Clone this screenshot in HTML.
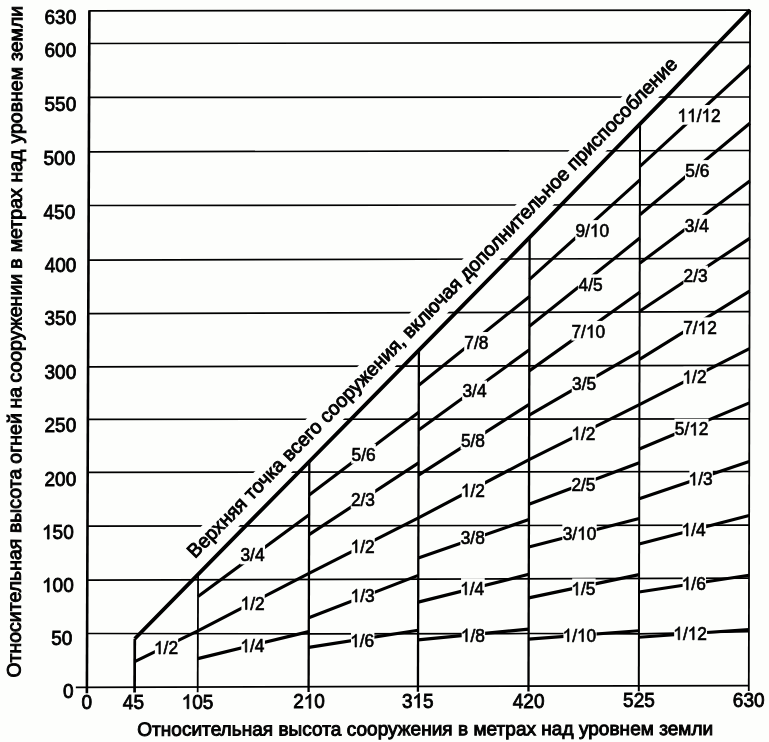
<!DOCTYPE html>
<html><head><meta charset="utf-8"><title>chart</title><style>html,body{margin:0;padding:0;background:#fdfefc}svg{display:block;will-change:transform}</style></head><body>
<svg width="769" height="742" viewBox="0 0 769 742" font-family="Liberation Sans, sans-serif" fill="#000">
<rect width="100%" height="100%" fill="#fdfefc"/>
<g stroke="#000" stroke-linecap="butt">
<polyline points="87.30,580.10 749.01,578.20" fill="none" stroke-width="1.7"/>
<polyline points="87.50,526.20 749.11,525.10" fill="none" stroke-width="1.7"/>
<polyline points="87.69,472.30 749.21,471.50" fill="none" stroke-width="1.7"/>
<polyline points="87.89,419.40 749.32,418.90" fill="none" stroke-width="1.7"/>
<polyline points="88.09,366.80 749.42,365.30" fill="none" stroke-width="1.7"/>
<polyline points="88.29,313.70 749.52,311.70" fill="none" stroke-width="1.7"/>
<polyline points="88.49,260.20 749.63,258.30" fill="none" stroke-width="1.7"/>
<polyline points="88.69,205.50 749.73,204.70" fill="none" stroke-width="1.7"/>
<polyline points="88.88,151.80 749.83,150.50" fill="none" stroke-width="1.7"/>
<polyline points="89.08,97.40 749.93,97.00" fill="none" stroke-width="1.7"/>
<polyline points="89.28,43.50 750.04,42.45" fill="none" stroke-width="1.7"/>
<polyline points="87.10,633.50 308.77,633.80 528.63,633.50 638.92,633.80 748.91,631.70" fill="none" stroke-width="1.7"/>
<line x1="89.40" y1="10.90" x2="750.10" y2="10.10" stroke-width="1.7" />
</g>
<g transform="translate(195.12,559.02) rotate(-45.617)">
<rect x="-5" y="-18.50" width="701.0" height="26.80" fill="#fdfefc"/>
<text x="0" y="0" font-size="19.4" textLength="691.0" lengthAdjust="spacing" stroke="#000" stroke-width="0.95">Верхняя точка всего сооружения, включая дополнительное приспособление</text>
</g>
<g stroke="#000" stroke-linecap="butt">
<line x1="134.58" y1="692.53" x2="134.77" y2="638.75" stroke-width="2.7" />
<line x1="197.68" y1="692.37" x2="198.08" y2="574.41" stroke-width="1.8" />
<line x1="308.58" y1="692.08" x2="309.30" y2="461.47" stroke-width="2.3" />
<line x1="417.93" y1="691.80" x2="418.90" y2="350.05" stroke-width="2.3" />
<line x1="528.49" y1="691.52" x2="529.63" y2="237.35" stroke-width="2.3" />
<line x1="638.79" y1="691.23" x2="640.05" y2="123.89" stroke-width="2.0" />
<line x1="748.79" y1="690.95" x2="750.10" y2="10.10" stroke-width="1.8" />
<line x1="86.88" y1="693.18" x2="89.40" y2="10.14" stroke-width="2.6" />
<line x1="75.84" y1="687.33" x2="748.80" y2="685.60" stroke-width="1.8" />
<polyline points="134.77,638.75 198.08,574.41 245.76,525.94 309.30,461.47 351.06,419.20 403.25,366.09 418.90,350.05 455.82,312.59 508.55,258.99 529.63,237.35 561.19,204.93 613.77,150.77 640.05,123.89 666.26,97.05 718.66,42.50 750.10,10.10" fill="none" stroke-width="3.8"/>
</g>
<g stroke="#000" stroke-linecap="butt">
<line x1="134.69" y1="661.60" x2="197.89" y2="630.90" stroke-width="3.15"/>
<line x1="198.01" y1="596.40" x2="309.14" y2="514.70" stroke-width="3.15"/>
<line x1="197.89" y1="630.90" x2="308.95" y2="573.40" stroke-width="3.15"/>
<line x1="197.80" y1="658.60" x2="308.77" y2="631.60" stroke-width="3.15"/>
<line x1="309.20" y1="495.00" x2="418.72" y2="412.30" stroke-width="3.15"/>
<line x1="309.07" y1="534.60" x2="418.58" y2="462.90" stroke-width="3.15"/>
<line x1="308.95" y1="573.40" x2="418.43" y2="517.90" stroke-width="3.15"/>
<line x1="308.81" y1="617.80" x2="418.26" y2="575.40" stroke-width="3.15"/>
<line x1="308.72" y1="647.40" x2="418.11" y2="630.20" stroke-width="3.15"/>
<line x1="418.80" y1="385.30" x2="529.48" y2="296.40" stroke-width="3.15"/>
<line x1="418.67" y1="430.00" x2="529.35" y2="349.80" stroke-width="3.15"/>
<line x1="418.55" y1="475.10" x2="529.21" y2="404.30" stroke-width="3.15"/>
<line x1="418.43" y1="517.90" x2="529.07" y2="459.60" stroke-width="3.15"/>
<line x1="418.31" y1="557.90" x2="528.92" y2="519.50" stroke-width="3.15"/>
<line x1="418.19" y1="602.10" x2="528.78" y2="574.30" stroke-width="3.15"/>
<line x1="418.08" y1="639.90" x2="528.65" y2="629.10" stroke-width="3.15"/>
<line x1="529.53" y1="279.40" x2="639.93" y2="179.90" stroke-width="3.15"/>
<line x1="529.41" y1="326.30" x2="639.80" y2="238.10" stroke-width="3.15"/>
<line x1="529.29" y1="370.90" x2="639.68" y2="292.30" stroke-width="3.15"/>
<line x1="529.18" y1="415.20" x2="639.54" y2="351.30" stroke-width="3.15"/>
<line x1="529.07" y1="459.60" x2="639.43" y2="404.60" stroke-width="3.15"/>
<line x1="528.96" y1="504.20" x2="639.30" y2="462.80" stroke-width="3.15"/>
<line x1="528.85" y1="547.00" x2="639.17" y2="518.50" stroke-width="3.15"/>
<line x1="528.72" y1="597.90" x2="639.05" y2="574.60" stroke-width="3.15"/>
<line x1="528.62" y1="639.10" x2="638.92" y2="630.80" stroke-width="3.15"/>
<line x1="639.96" y1="166.30" x2="750.00" y2="65.50" stroke-width="3.15"/>
<line x1="639.85" y1="214.80" x2="749.88" y2="123.30" stroke-width="3.15"/>
<line x1="639.74" y1="263.30" x2="749.77" y2="181.00" stroke-width="3.15"/>
<line x1="639.63" y1="311.20" x2="749.66" y2="238.40" stroke-width="3.15"/>
<line x1="639.53" y1="359.30" x2="749.56" y2="291.10" stroke-width="3.15"/>
<line x1="639.43" y1="404.60" x2="749.45" y2="348.70" stroke-width="3.15"/>
<line x1="639.33" y1="449.00" x2="749.35" y2="402.90" stroke-width="3.15"/>
<line x1="639.22" y1="498.70" x2="749.23" y2="461.40" stroke-width="3.15"/>
<line x1="639.12" y1="544.00" x2="749.13" y2="515.40" stroke-width="3.15"/>
<line x1="639.01" y1="592.00" x2="749.01" y2="575.20" stroke-width="3.15"/>
<line x1="638.91" y1="637.30" x2="748.91" y2="629.50" stroke-width="3.15"/>
</g>
<rect x="154.86" y="637.33" width="23.28" height="19.64" fill="#fdfefc"/>
<g transform="translate(153.97,654.07) scale(1,1.04)" stroke="#000" stroke-width="0.65"><text x="9.62 14.43" y="0" font-size="17.3">/2</text><path transform="translate(0.00,0) scale(0.00845,-0.00845)" d="M763 0H583V1147Q518 1085 412.5 1023Q307 961 223 930V1104Q374 1175 487 1276Q600 1377 647 1472H763Z" vector-effect="non-scaling-stroke"/></g>
<rect x="240.15" y="544.73" width="24.91" height="19.64" fill="#fdfefc"/>
<g transform="translate(240.50,561.47) scale(1,1.04)" stroke="#000" stroke-width="0.65"><text x="0.00 9.62 14.43" y="0" font-size="17.3">3/4</text></g>
<rect x="241.46" y="592.83" width="23.28" height="19.64" fill="#fdfefc"/>
<g transform="translate(240.57,609.57) scale(1,1.04)" stroke="#000" stroke-width="0.65"><text x="9.62 14.43" y="0" font-size="17.3">/2</text><path transform="translate(0.00,0) scale(0.00845,-0.00845)" d="M763 0H583V1147Q518 1085 412.5 1023Q307 961 223 930V1104Q374 1175 487 1276Q600 1377 647 1472H763Z" vector-effect="non-scaling-stroke"/></g>
<rect x="241.26" y="635.43" width="23.67" height="19.64" fill="#fdfefc"/>
<g transform="translate(240.38,652.17) scale(1,1.04)" stroke="#000" stroke-width="0.65"><text x="9.62 14.43" y="0" font-size="17.3">/4</text><path transform="translate(0.00,0) scale(0.00845,-0.00845)" d="M763 0H583V1147Q518 1085 412.5 1023Q307 961 223 930V1104Q374 1175 487 1276Q600 1377 647 1472H763Z" vector-effect="non-scaling-stroke"/></g>
<rect x="351.20" y="443.93" width="24.61" height="19.64" fill="#fdfefc"/>
<g transform="translate(351.51,460.67) scale(1,1.04)" stroke="#000" stroke-width="0.65"><text x="0.00 9.62 14.43" y="0" font-size="17.3">5/6</text></g>
<rect x="350.78" y="489.13" width="24.43" height="19.64" fill="#fdfefc"/>
<g transform="translate(350.92,505.87) scale(1,1.04)" stroke="#000" stroke-width="0.65"><text x="0.00 9.62 14.43" y="0" font-size="17.3">2/3</text></g>
<rect x="351.46" y="536.03" width="23.28" height="19.64" fill="#fdfefc"/>
<g transform="translate(350.57,552.77) scale(1,1.04)" stroke="#000" stroke-width="0.65"><text x="9.62 14.43" y="0" font-size="17.3">/2</text><path transform="translate(0.00,0) scale(0.00845,-0.00845)" d="M763 0H583V1147Q518 1085 412.5 1023Q307 961 223 930V1104Q374 1175 487 1276Q600 1377 647 1472H763Z" vector-effect="non-scaling-stroke"/></g>
<rect x="351.39" y="585.33" width="23.41" height="19.64" fill="#fdfefc"/>
<g transform="translate(350.51,602.07) scale(1,1.04)" stroke="#000" stroke-width="0.65"><text x="9.62 14.43" y="0" font-size="17.3">/3</text><path transform="translate(0.00,0) scale(0.00845,-0.00845)" d="M763 0H583V1147Q518 1085 412.5 1023Q307 961 223 930V1104Q374 1175 487 1276Q600 1377 647 1472H763Z" vector-effect="non-scaling-stroke"/></g>
<rect x="350.99" y="630.33" width="23.41" height="19.64" fill="#fdfefc"/>
<g transform="translate(350.11,647.07) scale(1,1.04)" stroke="#000" stroke-width="0.65"><text x="9.62 14.43" y="0" font-size="17.3">/6</text><path transform="translate(0.00,0) scale(0.00845,-0.00845)" d="M763 0H583V1147Q518 1085 412.5 1023Q307 961 223 930V1104Q374 1175 487 1276Q600 1377 647 1472H763Z" vector-effect="non-scaling-stroke"/></g>
<rect x="464.21" y="332.03" width="24.39" height="19.64" fill="#fdfefc"/>
<g transform="translate(464.30,348.77) scale(1,1.04)" stroke="#000" stroke-width="0.65"><text x="0.00 9.62 14.43" y="0" font-size="17.3">7/8</text></g>
<rect x="462.15" y="380.53" width="24.91" height="19.64" fill="#fdfefc"/>
<g transform="translate(462.50,397.27) scale(1,1.04)" stroke="#000" stroke-width="0.65"><text x="0.00 9.62 14.43" y="0" font-size="17.3">3/4</text></g>
<rect x="460.60" y="429.93" width="24.61" height="19.64" fill="#fdfefc"/>
<g transform="translate(460.91,446.67) scale(1,1.04)" stroke="#000" stroke-width="0.65"><text x="0.00 9.62 14.43" y="0" font-size="17.3">5/8</text></g>
<rect x="461.76" y="480.03" width="23.28" height="19.64" fill="#fdfefc"/>
<g transform="translate(460.87,496.77) scale(1,1.04)" stroke="#000" stroke-width="0.65"><text x="9.62 14.43" y="0" font-size="17.3">/2</text><path transform="translate(0.00,0) scale(0.00845,-0.00845)" d="M763 0H583V1147Q518 1085 412.5 1023Q307 961 223 930V1104Q374 1175 487 1276Q600 1377 647 1472H763Z" vector-effect="non-scaling-stroke"/></g>
<rect x="460.38" y="527.03" width="24.65" height="19.64" fill="#fdfefc"/>
<g transform="translate(460.73,543.77) scale(1,1.04)" stroke="#000" stroke-width="0.65"><text x="0.00 9.62 14.43" y="0" font-size="17.3">3/8</text></g>
<rect x="461.06" y="578.13" width="23.67" height="19.64" fill="#fdfefc"/>
<g transform="translate(460.18,594.87) scale(1,1.04)" stroke="#000" stroke-width="0.65"><text x="9.62 14.43" y="0" font-size="17.3">/4</text><path transform="translate(0.00,0) scale(0.00845,-0.00845)" d="M763 0H583V1147Q518 1085 412.5 1023Q307 961 223 930V1104Q374 1175 487 1276Q600 1377 647 1472H763Z" vector-effect="non-scaling-stroke"/></g>
<rect x="461.69" y="624.93" width="23.41" height="19.64" fill="#fdfefc"/>
<g transform="translate(460.81,641.67) scale(1,1.04)" stroke="#000" stroke-width="0.65"><text x="9.62 14.43" y="0" font-size="17.3">/8</text><path transform="translate(0.00,0) scale(0.00845,-0.00845)" d="M763 0H583V1147Q518 1085 412.5 1023Q307 961 223 930V1104Q374 1175 487 1276Q600 1377 647 1472H763Z" vector-effect="non-scaling-stroke"/></g>
<rect x="575.21" y="220.13" width="34.18" height="19.64" fill="#fdfefc"/>
<g transform="translate(575.39,236.87) scale(1,1.04)" stroke="#000" stroke-width="0.65"><text x="0.00 9.62 24.05" y="0" font-size="17.3">9/0</text><path transform="translate(14.43,0) scale(0.00845,-0.00845)" d="M763 0H583V1147Q518 1085 412.5 1023Q307 961 223 930V1104Q374 1175 487 1276Q600 1377 647 1472H763Z" vector-effect="non-scaling-stroke"/></g>
<rect x="577.92" y="274.33" width="24.95" height="19.64" fill="#fdfefc"/>
<g transform="translate(578.54,291.07) scale(1,1.04)" stroke="#000" stroke-width="0.65"><text x="0.00 9.62 14.43" y="0" font-size="17.3">4/5</text></g>
<rect x="571.35" y="320.93" width="34.10" height="19.64" fill="#fdfefc"/>
<g transform="translate(571.44,337.67) scale(1,1.04)" stroke="#000" stroke-width="0.65"><text x="0.00 9.62 24.05" y="0" font-size="17.3">7/0</text><path transform="translate(14.43,0) scale(0.00845,-0.00845)" d="M763 0H583V1147Q518 1085 412.5 1023Q307 961 223 930V1104Q374 1175 487 1276Q600 1377 647 1472H763Z" vector-effect="non-scaling-stroke"/></g>
<rect x="571.75" y="373.03" width="24.69" height="19.64" fill="#fdfefc"/>
<g transform="translate(572.11,389.77) scale(1,1.04)" stroke="#000" stroke-width="0.65"><text x="0.00 9.62 14.43" y="0" font-size="17.3">3/5</text></g>
<rect x="572.26" y="422.93" width="23.28" height="19.64" fill="#fdfefc"/>
<g transform="translate(571.37,439.67) scale(1,1.04)" stroke="#000" stroke-width="0.65"><text x="9.62 14.43" y="0" font-size="17.3">/2</text><path transform="translate(0.00,0) scale(0.00845,-0.00845)" d="M763 0H583V1147Q518 1085 412.5 1023Q307 961 223 930V1104Q374 1175 487 1276Q600 1377 647 1472H763Z" vector-effect="non-scaling-stroke"/></g>
<rect x="571.26" y="473.83" width="24.48" height="19.64" fill="#fdfefc"/>
<g transform="translate(571.40,490.57) scale(1,1.04)" stroke="#000" stroke-width="0.65"><text x="0.00 9.62 14.43" y="0" font-size="17.3">2/5</text></g>
<rect x="562.32" y="522.93" width="34.36" height="19.64" fill="#fdfefc"/>
<g transform="translate(562.67,539.67) scale(1,1.04)" stroke="#000" stroke-width="0.65"><text x="0.00 9.62 24.05" y="0" font-size="17.3">3/0</text><path transform="translate(14.43,0) scale(0.00845,-0.00845)" d="M763 0H583V1147Q518 1085 412.5 1023Q307 961 223 930V1104Q374 1175 487 1276Q600 1377 647 1472H763Z" vector-effect="non-scaling-stroke"/></g>
<rect x="572.17" y="578.43" width="23.45" height="19.64" fill="#fdfefc"/>
<g transform="translate(571.29,595.17) scale(1,1.04)" stroke="#000" stroke-width="0.65"><text x="9.62 14.43" y="0" font-size="17.3">/5</text><path transform="translate(0.00,0) scale(0.00845,-0.00845)" d="M763 0H583V1147Q518 1085 412.5 1023Q307 961 223 930V1104Q374 1175 487 1276Q600 1377 647 1472H763Z" vector-effect="non-scaling-stroke"/></g>
<rect x="563.44" y="624.93" width="33.12" height="19.64" fill="#fdfefc"/>
<g transform="translate(562.55,641.67) scale(1,1.04)" stroke="#000" stroke-width="0.65"><text x="9.62 24.05" y="0" font-size="17.3">/0</text><path transform="translate(0.00,0) scale(0.00845,-0.00845)" d="M763 0H583V1147Q518 1085 412.5 1023Q307 961 223 930V1104Q374 1175 487 1276Q600 1377 647 1472H763Z" vector-effect="non-scaling-stroke"/><path transform="translate(14.43,0) scale(0.00845,-0.00845)" d="M763 0H583V1147Q518 1085 412.5 1023Q307 961 223 930V1104Q374 1175 487 1276Q600 1377 647 1472H763Z" vector-effect="non-scaling-stroke"/></g>
<rect x="678.34" y="105.03" width="42.52" height="19.64" fill="#fdfefc"/>
<g transform="translate(677.45,121.77) scale(1,1.04)" stroke="#000" stroke-width="0.65"><text x="19.24 33.67" y="0" font-size="17.3">/2</text><path transform="translate(0.00,0) scale(0.00845,-0.00845)" d="M763 0H583V1147Q518 1085 412.5 1023Q307 961 223 930V1104Q374 1175 487 1276Q600 1377 647 1472H763Z" vector-effect="non-scaling-stroke"/><path transform="translate(9.62,0) scale(0.00845,-0.00845)" d="M763 0H583V1147Q518 1085 412.5 1023Q307 961 223 930V1104Q374 1175 487 1276Q600 1377 647 1472H763Z" vector-effect="non-scaling-stroke"/><path transform="translate(24.05,0) scale(0.00845,-0.00845)" d="M763 0H583V1147Q518 1085 412.5 1023Q307 961 223 930V1104Q374 1175 487 1276Q600 1377 647 1472H763Z" vector-effect="non-scaling-stroke"/></g>
<rect x="685.00" y="160.13" width="24.61" height="19.64" fill="#fdfefc"/>
<g transform="translate(685.31,176.87) scale(1,1.04)" stroke="#000" stroke-width="0.65"><text x="0.00 9.62 14.43" y="0" font-size="17.3">5/6</text></g>
<rect x="684.45" y="214.83" width="24.91" height="19.64" fill="#fdfefc"/>
<g transform="translate(684.80,231.57) scale(1,1.04)" stroke="#000" stroke-width="0.65"><text x="0.00 9.62 14.43" y="0" font-size="17.3">3/4</text></g>
<rect x="683.48" y="265.63" width="24.43" height="19.64" fill="#fdfefc"/>
<g transform="translate(683.62,282.37) scale(1,1.04)" stroke="#000" stroke-width="0.65"><text x="0.00 9.62 14.43" y="0" font-size="17.3">2/3</text></g>
<rect x="683.06" y="317.33" width="33.88" height="19.64" fill="#fdfefc"/>
<g transform="translate(683.15,334.07) scale(1,1.04)" stroke="#000" stroke-width="0.65"><text x="0.00 9.62 24.05" y="0" font-size="17.3">7/2</text><path transform="translate(14.43,0) scale(0.00845,-0.00845)" d="M763 0H583V1147Q518 1085 412.5 1023Q307 961 223 930V1104Q374 1175 487 1276Q600 1377 647 1472H763Z" vector-effect="non-scaling-stroke"/></g>
<rect x="683.36" y="366.73" width="23.28" height="19.64" fill="#fdfefc"/>
<g transform="translate(682.47,383.47) scale(1,1.04)" stroke="#000" stroke-width="0.65"><text x="9.62 14.43" y="0" font-size="17.3">/2</text><path transform="translate(0.00,0) scale(0.00845,-0.00845)" d="M763 0H583V1147Q518 1085 412.5 1023Q307 961 223 930V1104Q374 1175 487 1276Q600 1377 647 1472H763Z" vector-effect="non-scaling-stroke"/></g>
<rect x="674.45" y="418.63" width="34.10" height="19.64" fill="#fdfefc"/>
<g transform="translate(674.76,435.37) scale(1,1.04)" stroke="#000" stroke-width="0.65"><text x="0.00 9.62 24.05" y="0" font-size="17.3">5/2</text><path transform="translate(14.43,0) scale(0.00845,-0.00845)" d="M763 0H583V1147Q518 1085 412.5 1023Q307 961 223 930V1104Q374 1175 487 1276Q600 1377 647 1472H763Z" vector-effect="non-scaling-stroke"/></g>
<rect x="689.39" y="468.53" width="23.41" height="19.64" fill="#fdfefc"/>
<g transform="translate(688.51,485.27) scale(1,1.04)" stroke="#000" stroke-width="0.65"><text x="9.62 14.43" y="0" font-size="17.3">/3</text><path transform="translate(0.00,0) scale(0.00845,-0.00845)" d="M763 0H583V1147Q518 1085 412.5 1023Q307 961 223 930V1104Q374 1175 487 1276Q600 1377 647 1472H763Z" vector-effect="non-scaling-stroke"/></g>
<rect x="682.46" y="519.23" width="23.67" height="19.64" fill="#fdfefc"/>
<g transform="translate(681.58,535.97) scale(1,1.04)" stroke="#000" stroke-width="0.65"><text x="9.62 14.43" y="0" font-size="17.3">/4</text><path transform="translate(0.00,0) scale(0.00845,-0.00845)" d="M763 0H583V1147Q518 1085 412.5 1023Q307 961 223 930V1104Q374 1175 487 1276Q600 1377 647 1472H763Z" vector-effect="non-scaling-stroke"/></g>
<rect x="682.59" y="573.13" width="23.41" height="19.64" fill="#fdfefc"/>
<g transform="translate(681.71,589.87) scale(1,1.04)" stroke="#000" stroke-width="0.65"><text x="9.62 14.43" y="0" font-size="17.3">/6</text><path transform="translate(0.00,0) scale(0.00845,-0.00845)" d="M763 0H583V1147Q518 1085 412.5 1023Q307 961 223 930V1104Q374 1175 487 1276Q600 1377 647 1472H763Z" vector-effect="non-scaling-stroke"/></g>
<rect x="674.15" y="623.03" width="32.90" height="19.64" fill="#fdfefc"/>
<g transform="translate(673.26,639.77) scale(1,1.04)" stroke="#000" stroke-width="0.65"><text x="9.62 24.05" y="0" font-size="17.3">/2</text><path transform="translate(0.00,0) scale(0.00845,-0.00845)" d="M763 0H583V1147Q518 1085 412.5 1023Q307 961 223 930V1104Q374 1175 487 1276Q600 1377 647 1472H763Z" vector-effect="non-scaling-stroke"/><path transform="translate(14.43,0) scale(0.00845,-0.00845)" d="M763 0H583V1147Q518 1085 412.5 1023Q307 961 223 930V1104Q374 1175 487 1276Q600 1377 647 1472H763Z" vector-effect="non-scaling-stroke"/></g>
<g transform="translate(44.53,23.90) scale(1,1.04)" stroke="#000" stroke-width="0.8"><text x="0.00 10.57 21.13" y="0" font-size="19.0">630</text></g>
<g transform="translate(44.53,56.60) scale(1,1.04)" stroke="#000" stroke-width="0.8"><text x="0.00 10.57 21.13" y="0" font-size="19.0">600</text></g>
<g transform="translate(44.53,110.60) scale(1,1.04)" stroke="#000" stroke-width="0.8"><text x="0.00 10.57 21.13" y="0" font-size="19.0">550</text></g>
<g transform="translate(43.53,164.60) scale(1,1.04)" stroke="#000" stroke-width="0.8"><text x="0.00 10.57 21.13" y="0" font-size="19.0">500</text></g>
<g transform="translate(43.53,218.50) scale(1,1.04)" stroke="#000" stroke-width="0.8"><text x="0.00 10.57 21.13" y="0" font-size="19.0">450</text></g>
<g transform="translate(44.73,271.70) scale(1,1.04)" stroke="#000" stroke-width="0.8"><text x="0.00 10.57 21.13" y="0" font-size="19.0">400</text></g>
<g transform="translate(44.53,325.30) scale(1,1.04)" stroke="#000" stroke-width="0.8"><text x="0.00 10.57 21.13" y="0" font-size="19.0">350</text></g>
<g transform="translate(44.53,378.70) scale(1,1.04)" stroke="#000" stroke-width="0.8"><text x="0.00 10.57 21.13" y="0" font-size="19.0">300</text></g>
<g transform="translate(44.53,432.30) scale(1,1.04)" stroke="#000" stroke-width="0.8"><text x="0.00 10.57 21.13" y="0" font-size="19.0">250</text></g>
<g transform="translate(44.53,485.70) scale(1,1.04)" stroke="#000" stroke-width="0.8"><text x="0.00 10.57 21.13" y="0" font-size="19.0">200</text></g>
<g transform="translate(42.03,539.10) scale(1,1.04)" stroke="#000" stroke-width="0.8"><text x="10.57 21.13" y="0" font-size="19.0">50</text><path transform="translate(0.00,0) scale(0.00928,-0.00928)" d="M763 0H583V1147Q518 1085 412.5 1023Q307 961 223 930V1104Q374 1175 487 1276Q600 1377 647 1472H763Z" vector-effect="non-scaling-stroke"/></g>
<g transform="translate(42.03,592.10) scale(1,1.04)" stroke="#000" stroke-width="0.8"><text x="10.57 21.13" y="0" font-size="19.0">00</text><path transform="translate(0.00,0) scale(0.00928,-0.00928)" d="M763 0H583V1147Q518 1085 412.5 1023Q307 961 223 930V1104Q374 1175 487 1276Q600 1377 647 1472H763Z" vector-effect="non-scaling-stroke"/></g>
<g transform="translate(51.20,644.90) scale(1,1.04)" stroke="#000" stroke-width="0.8"><text x="0.00 10.57" y="0" font-size="19.0">50</text></g>
<g transform="translate(63.07,697.90) scale(1,1.04)" stroke="#000" stroke-width="0.8"><text x="0.00" y="0" font-size="19.0">0</text></g>
<g transform="translate(81.60,709.20) scale(1,1.04)" stroke="#000" stroke-width="0.8"><text x="0.00" y="0" font-size="19.0">0</text></g>
<g transform="translate(122.81,708.90) scale(1,1.04)" stroke="#000" stroke-width="0.8"><text x="0.00 10.57" y="0" font-size="19.0">45</text></g>
<g transform="translate(181.71,708.70) scale(1,1.04)" stroke="#000" stroke-width="0.8"><text x="10.57 21.13" y="0" font-size="19.0">05</text><path transform="translate(0.00,0) scale(0.00928,-0.00928)" d="M763 0H583V1147Q518 1085 412.5 1023Q307 961 223 930V1104Q374 1175 487 1276Q600 1377 647 1472H763Z" vector-effect="non-scaling-stroke"/></g>
<g transform="translate(293.14,708.30) scale(1,1.04)" stroke="#000" stroke-width="0.8"><text x="0.00 21.13" y="0" font-size="19.0">20</text><path transform="translate(10.57,0) scale(0.00928,-0.00928)" d="M763 0H583V1147Q518 1085 412.5 1023Q307 961 223 930V1104Q374 1175 487 1276Q600 1377 647 1472H763Z" vector-effect="non-scaling-stroke"/></g>
<g transform="translate(401.88,707.80) scale(1,1.04)" stroke="#000" stroke-width="0.8"><text x="0.00 21.13" y="0" font-size="19.0">35</text><path transform="translate(10.57,0) scale(0.00928,-0.00928)" d="M763 0H583V1147Q518 1085 412.5 1023Q307 961 223 930V1104Q374 1175 487 1276Q600 1377 647 1472H763Z" vector-effect="non-scaling-stroke"/></g>
<g transform="translate(512.80,707.80) scale(1,1.04)" stroke="#000" stroke-width="0.8"><text x="0.00 10.57 21.13" y="0" font-size="19.0">420</text></g>
<g transform="translate(623.06,707.40) scale(1,1.04)" stroke="#000" stroke-width="0.8"><text x="0.00 10.57 21.13" y="0" font-size="19.0">525</text></g>
<g transform="translate(732.84,706.80) scale(1,1.04)" stroke="#000" stroke-width="0.8"><text x="0.00 10.57 21.13" y="0" font-size="19.0">630</text></g>
<text x="137.2" y="735.7" font-size="19.05" textLength="576" lengthAdjust="spacing" stroke="#000" stroke-width="0.95" transform="rotate(-0.08 137 735)">Относительная высота сооружения в метрах над уровнем земли</text>
<text transform="translate(20.60,677.62) rotate(-89.85)" font-size="19.35" textLength="138.98" lengthAdjust="spacing" stroke="#000" stroke-width="0.95">Относительная</text>
<text transform="translate(20.98,533.05) rotate(-89.85)" font-size="19.35" textLength="64.32" lengthAdjust="spacing" stroke="#000" stroke-width="0.95">высота</text>
<text transform="translate(21.16,463.70) rotate(-89.85)" font-size="19.35" textLength="50.46" lengthAdjust="spacing" stroke="#000" stroke-width="0.95">огней</text>
<text transform="translate(21.30,408.55) rotate(-89.85)" font-size="19.35" textLength="21.61" lengthAdjust="spacing" stroke="#000" stroke-width="0.95">на</text>
<text transform="translate(21.37,382.58) rotate(-89.85)" font-size="19.35" textLength="108.70" lengthAdjust="spacing" stroke="#000" stroke-width="0.95">сооружении</text>
<text transform="translate(21.66,268.79) rotate(-89.85)" font-size="19.35" textLength="10.36" lengthAdjust="spacing" stroke="#000" stroke-width="0.95">в</text>
<text transform="translate(21.71,252.28) rotate(-89.85)" font-size="19.35" textLength="63.98" lengthAdjust="spacing" stroke="#000" stroke-width="0.95">метрах</text>
<text transform="translate(21.89,182.60) rotate(-89.85)" font-size="19.35" textLength="32.99" lengthAdjust="spacing" stroke="#000" stroke-width="0.95">над</text>
<text transform="translate(21.99,143.57) rotate(-89.85)" font-size="19.35" textLength="76.60" lengthAdjust="spacing" stroke="#000" stroke-width="0.95">уровнем</text>
<text transform="translate(22.20,61.11) rotate(-89.85)" font-size="19.35" textLength="55.24" lengthAdjust="spacing" stroke="#000" stroke-width="0.95">земли</text>
</svg>
</body></html>
